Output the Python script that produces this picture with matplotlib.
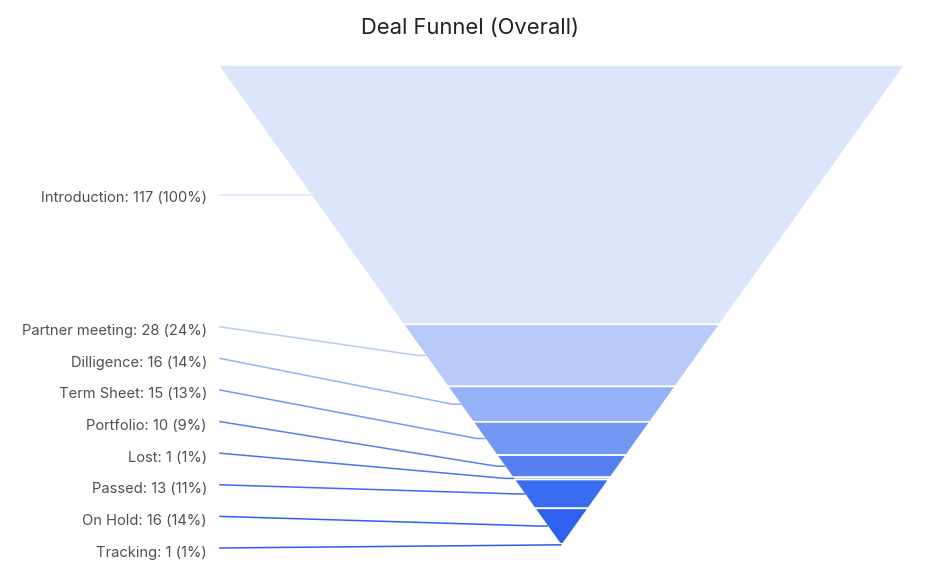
import matplotlib.pyplot as plt
from matplotlib.patches import Polygon

plt.rcParams['font.family'] = ['Inter', 'DejaVu Sans']

stages = ['Introduction', 'Partner meeting', 'Dilligence', 'Term Sheet',
          'Portfolio', 'Lost', 'Passed', 'On Hold', 'Tracking']
counts = [117, 28, 16, 15, 10, 1, 13, 16, 1]
colors = ['#dbe5fc', '#b8cbf8', '#95b2f8', '#7398f3', '#5580f0',
          '#4776ef', '#3a6cf0', '#2e62ee', '#2a5de6']

# layout in pixels
W, H = 938, 564
top, bottom = 65, 546
left, right = 218, 905
cx = (left + right) / 2
half = (right - left) / 2
label_x = 207
line_x = 220
gap = 31.6
last_label = 551

fig = plt.figure(figsize=(W / 100, H / 100), dpi=100)
ax = fig.add_axes([0, 0, 1, 1])
ax.set_xlim(0, W)
ax.set_ylim(H, 0)
ax.axis('off')

total = sum(counts)
scale = (bottom - top) / total

def half_w(y):
    return half * (bottom - y) / (bottom - top)

y0 = top
n = len(stages)
for i, (name, c, col) in enumerate(zip(stages, counts, colors)):
    y1 = y0 + c * scale
    w0, w1 = half_w(y0), half_w(y1)
    poly = Polygon([(cx - w0, y0), (cx + w0, y0), (cx + w1, y1), (cx - w1, y1)],
                   closed=True, facecolor=col, edgecolor='white', linewidth=1.2)
    ax.add_patch(poly)
    mid = (y0 + y1) / 2
    ex = cx - half_w(mid)
    if i == 0:
        ly = mid + 2
        ax.plot([line_x, ex], [mid, mid], color=col, lw=1.1)
    else:
        ly = last_label - (n - 1 - i) * gap
        ax.plot([line_x, ex - 8, ex], [ly - 3, mid, mid], color=col, lw=1.1)
    pct = round(c / counts[0] * 100)
    ax.text(label_x, ly + 1.5, f'{name}: {c} ({pct}%)', ha='right', va='center',
            fontsize=10.6, color='#505050')
    y0 = y1

ax.text(W / 2 + 1, 28, 'Deal Funnel (Overall)', ha='center', va='center',
        fontsize=15.8, color='#1f2328')

fig.savefig('out.png', dpi=100)
